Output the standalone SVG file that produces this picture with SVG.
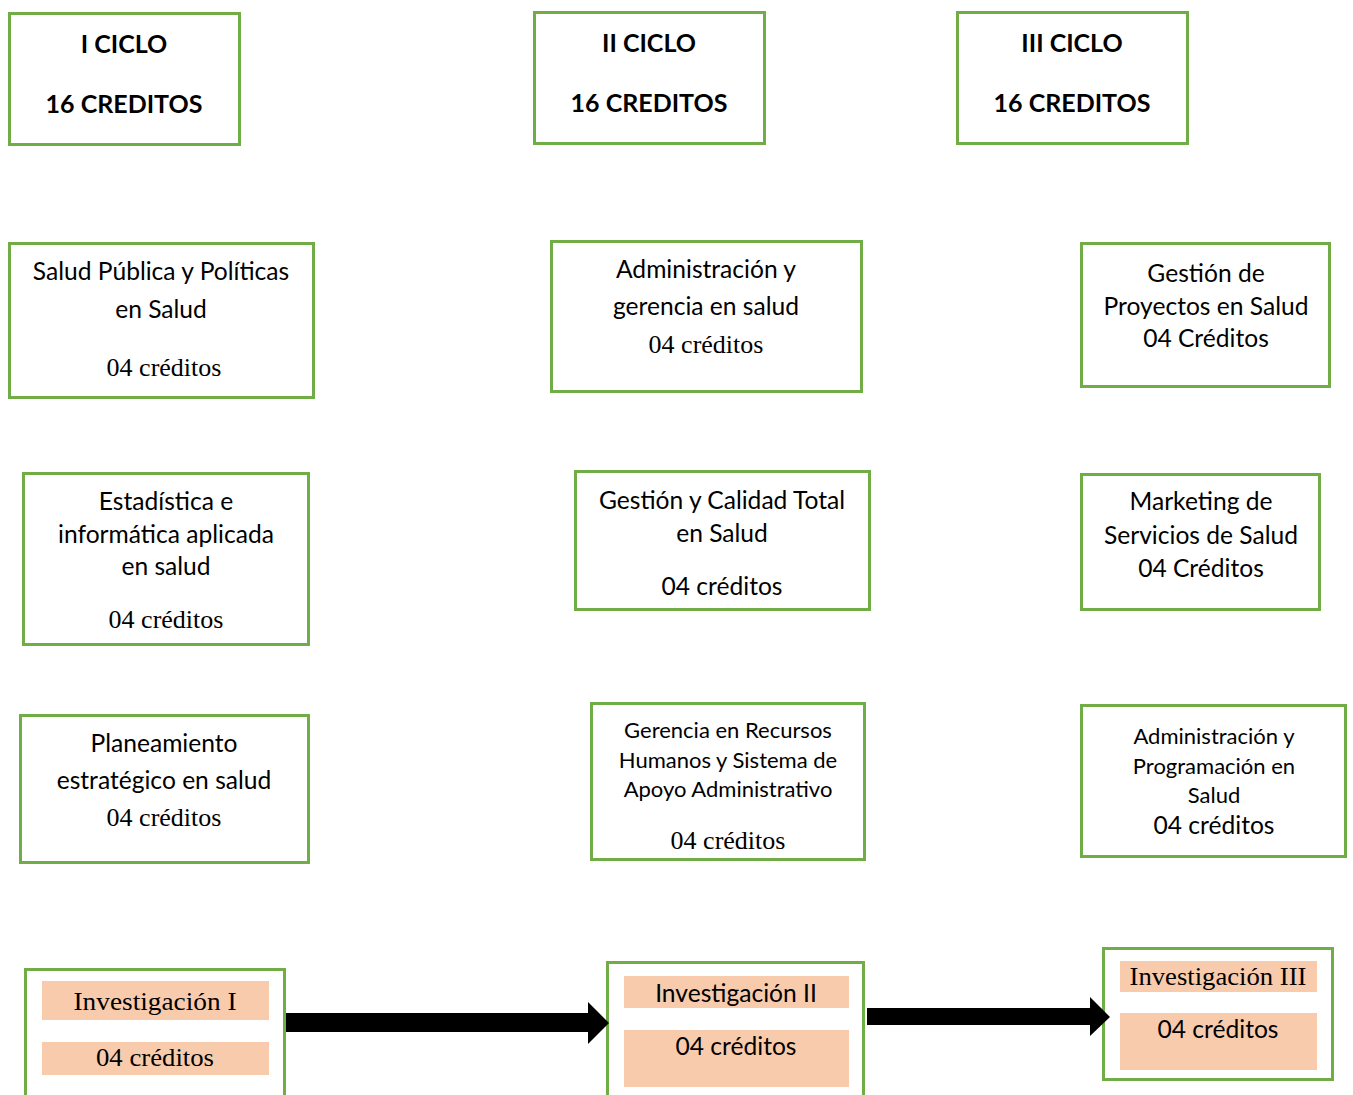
<svg xmlns="http://www.w3.org/2000/svg" width="1353" height="1095" viewBox="0 0 1353 1095">
<style>
.box{fill:#fff;stroke:#70ad47;stroke-width:3}
.peach{fill:#f8cbad}
.t{font-family:Lato,"Liberation Sans",sans-serif;font-size:24.6px;fill:#000;text-anchor:middle}
.ts{font-family:Lato,"Liberation Sans",sans-serif;font-size:22px;fill:#000;text-anchor:middle}
.tb{font-family:Lato,"Liberation Sans",sans-serif;font-size:25px;font-weight:bold;fill:#000;text-anchor:middle}
.sr{font-family:"Liberation Serif","Times New Roman",serif;font-size:26px;fill:#000;text-anchor:middle}
</style>
<rect width="1353" height="1095" fill="#fff"/>
<g id="ciclo1"><rect class="box" x="9.5" y="13.5" width="230" height="131"/><text class="tb" x="124" y="53">I CICLO</text><text class="tb" x="124" y="113">16 CREDITOS</text></g>
<g id="ciclo2"><rect class="box" x="534.5" y="12.5" width="230" height="131"/><text class="tb" x="649" y="52">II CICLO</text><text class="tb" x="649" y="112">16 CREDITOS</text></g>
<g id="ciclo3"><rect class="box" x="957.5" y="12.5" width="230" height="131"/><text class="tb" x="1072" y="52">III CICLO</text><text class="tb" x="1072" y="112">16 CREDITOS</text></g>

<g id="salud-publica"><rect class="box" x="9.5" y="243.5" width="304" height="154"/><text class="t" x="161" y="280">Salud Pública y Políticas</text><text class="t" x="161" y="318">en Salud</text><text class="sr" x="164" y="376">04 créditos</text></g>
<g id="administracion-gerencia"><rect class="box" x="551.5" y="241.5" width="310" height="150"/><text class="t" x="706" y="278">Administración y</text><text class="t" x="706" y="315">gerencia en salud</text><text class="sr" x="706" y="353">04 créditos</text></g>
<g id="gestion-proyectos"><rect class="box" x="1081.5" y="243.5" width="248" height="143"/><text class="t" x="1206" y="282">Gestión de</text><text class="t" x="1206" y="315">Proyectos en Salud</text><text class="t" x="1206" y="347">04 Créditos</text></g>

<g id="estadistica"><rect class="box" x="23.5" y="473.5" width="285" height="171"/><text class="t" x="166" y="510">Estadística e</text><text class="t" x="166" y="543">informática aplicada</text><text class="t" x="166" y="575">en salud</text><text class="sr" x="166" y="628">04 créditos</text></g>
<g id="gestion-calidad"><rect class="box" x="575.5" y="471.5" width="294" height="138"/><text class="t" x="722" y="509">Gestión y Calidad Total</text><text class="t" x="722" y="542">en Salud</text><text class="t" x="722" y="595">04 créditos</text></g>
<g id="marketing"><rect class="box" x="1081.5" y="474.5" width="238" height="135"/><text class="t" x="1201" y="510">Marketing de</text><text class="t" x="1201" y="544">Servicios de Salud</text><text class="t" x="1201" y="577">04 Créditos</text></g>

<g id="planeamiento"><rect class="box" x="20.5" y="715.5" width="288" height="147"/><text class="t" x="164" y="752">Planeamiento</text><text class="t" x="164" y="789">estratégico en salud</text><text class="sr" x="164" y="826">04 créditos</text></g>
<g id="gerencia-rrhh"><rect class="box" x="591.5" y="703.5" width="273" height="156"/><text class="ts" x="728" y="738">Gerencia en Recursos</text><text class="ts" x="728" y="768">Humanos y Sistema de</text><text class="ts" x="728" y="797">Apoyo Administrativo</text><text class="sr" x="728" y="849">04 créditos</text></g>
<g id="administracion-programacion"><rect class="box" x="1081.5" y="705.5" width="264" height="151"/><text class="ts" x="1214" y="744">Administración y</text><text class="ts" x="1214" y="774">Programación en</text><text class="ts" x="1214" y="803">Salud</text><text class="t" x="1214" y="834">04 créditos</text></g>

<g id="investigacion1"><rect class="box" x="25.5" y="969.5" width="259" height="130"/><rect class="peach" x="42" y="981" width="227" height="39"/><rect class="peach" x="42" y="1042" width="227" height="33"/><text class="sr" x="155" y="1010" font-size="32" textLength="163" lengthAdjust="spacingAndGlyphs">Investigación I</text><text class="sr" x="155" y="1066" textLength="118" lengthAdjust="spacingAndGlyphs">04 créditos</text></g>
<g id="investigacion2"><rect class="box" x="607.5" y="962.5" width="256" height="137"/><rect class="peach" x="624" y="976" width="225" height="32"/><rect class="peach" x="624" y="1030" width="225" height="57"/><text class="t" x="736" y="1002">Investigación II</text><text class="t" x="736" y="1055">04 créditos</text></g>
<g id="investigacion3"><rect class="box" x="1103.5" y="948.5" width="229" height="131"/><rect class="peach" x="1120" y="961" width="197" height="31"/><rect class="peach" x="1120" y="1013" width="197" height="57"/><text class="sr" x="1218" y="985" font-size="30" textLength="177" lengthAdjust="spacingAndGlyphs">Investigación III</text><text class="t" x="1218" y="1038">04 créditos</text></g>

<g id="connectors" fill="#000">
<polygon points="286,1013 588,1013 588,1002 609,1023 588,1044 588,1032 286,1032"/>
<polygon points="867,1008 1090,1008 1090,997 1110,1017 1090,1036 1090,1025 867,1025"/>
</g>
</svg>
